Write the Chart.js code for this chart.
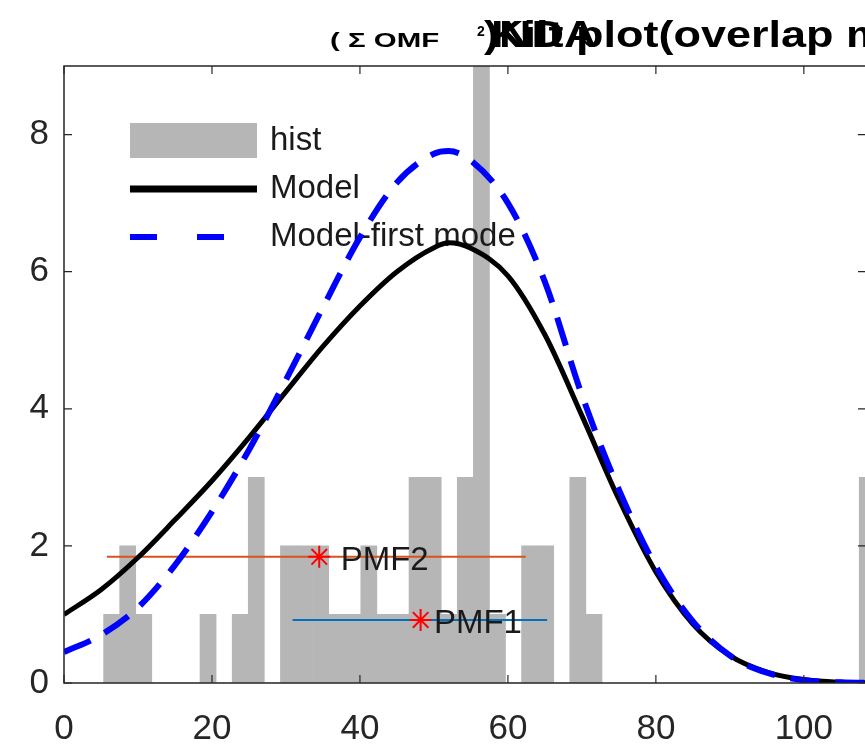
<!DOCTYPE html>
<html>
<head>
<meta charset="utf-8">
<script src="https://cdn.jsdelivr.net/npm/chart.js@4.4.1/dist/chart.umd.min.js"></script>
<style>
    html, body { margin: 0; padding: 0; background: #fff; overflow: hidden; }
    #quadro { width: 865px; height: 748px; overflow: hidden; position: relative; background: #fff; }
    #quadro canvas { position: absolute; left: 0; top: 0; }
</style>
</head>
<body>
<div id="quadro"><canvas id="grafico" width="880" height="748" style="width:880px;height:748px"></canvas></div>
<script>
// histograma (centros das classes e contagens)
const histCentros = [6.44, 8.61, 10.78, 12.96, 15.13, 17.30, 19.47, 21.65, 23.82, 25.99, 28.17,
    30.34, 32.51, 34.69, 36.86, 39.03, 41.20, 43.38, 45.55, 47.72, 49.90, 52.07, 54.24, 56.42,
    58.59, 60.76, 62.93, 65.11, 67.28, 69.45, 71.63, 108.57];
const histContagem = [1, 2, 1, 0, 0, 0, 1, 0, 1, 3, 0,
    2, 2, 2, 1, 1, 2, 1, 1, 3, 3, 1, 3, 9,
    1, 0, 2, 2, 0, 3, 1, 3];

// curvas do modelo
const xModelo = [0, 5, 10, 15, 20, 25, 30, 35, 40, 45, 50, 52, 55, 60, 65, 70, 75, 80, 85, 90, 95, 100, 105, 110];
const yModelo = [1.00, 1.36, 1.83, 2.38, 2.95, 3.58, 4.25, 4.91, 5.50, 6.00, 6.35, 6.42, 6.34, 5.94, 5.08, 3.90, 2.68, 1.62, 0.86, 0.40, 0.16, 0.05, 0.01, 0.00];
const yPrimeiroModo = [0.45, 0.70, 1.10, 1.72, 2.50, 3.40, 4.42, 5.48, 6.50, 7.30, 7.72, 7.76, 7.62, 7.00, 5.85, 4.20, 2.82, 1.70, 0.90, 0.40, 0.15, 0.04, 0.01, 0.00];

// PMF: centro, altura, extremos e posição do rótulo
const pmfNomes = ['PMF1', 'PMF2'];
const pmfCentro = [48.2, 34.5];
const pmfAltura = [0.92, 1.84];
const pmfInicio = [30.9, 5.8];
const pmfFim = [65.3, 62.4];
const pmfTextoX = [50.0, 37.4];
const pmfCores = ['#0072BD', '#D95319'];

const xTicks = [0, 20, 40, 60, 80, 100];
const yTicks = [0, 2, 4, 6, 8];

const fonte = "'Liberation Sans', Arial, sans-serif";
const corEixo = '#262626';
const cinza = '#b6b6b6';

const pares = (xs, ys) => xs.map((x, i) => ({ x: x, y: ys[i] }));

const datasets = [{
    type: 'bar',
    label: 'hist',
    data: pares(histCentros, histContagem),
    backgroundColor: cinza,
    borderWidth: 0,
    barPercentage: 1,
    categoryPercentage: 1,
    order: 10
}, {
    type: 'line',
    label: 'Model',
    data: pares(xModelo, yModelo),
    borderColor: '#000000',
    borderWidth: 5,
    pointRadius: 0,
    cubicInterpolationMode: 'monotone',
    order: 1
}, {
    type: 'line',
    label: 'Model-first mode',
    data: pares(xModelo, yPrimeiroModo),
    borderColor: '#0000ff',
    borderWidth: 6,
    borderDash: [29, 16],
    pointRadius: 0,
    cubicInterpolationMode: 'monotone',
    order: 0
}];

pmfNomes.forEach((nome, i) => {
    datasets.push({
        type: 'line',
        label: nome + ' faixa',
        data: [{ x: pmfInicio[i], y: pmfAltura[i] }, { x: pmfFim[i], y: pmfAltura[i] }],
        borderColor: pmfCores[i],
        borderWidth: 2,
        pointRadius: 0,
        order: 3
    });
    datasets.push({
        type: 'line',
        label: nome,
        data: [{ x: pmfCentro[i], y: pmfAltura[i] }],
        showLine: false,
        pointStyle: 'star',
        pointRadius: 11,
        borderColor: '#ff0000',
        borderWidth: 2,
        order: 2
    });
});

const moldura = {
    id: 'moldura',
    afterDatasetDraw(chart, args) {
        if (args.index !== 0) return;
        // legenda dentro do eixo, sem caixa
        const ctx = chart.ctx;
        const a = chart.chartArea;
        const x0 = a.left + 66, x1 = a.left + 193, xt = a.left + 206;
        const linhas = [a.top + 75, a.top + 123, a.top + 171];
        ctx.save();
        ctx.fillStyle = cinza;
        ctx.fillRect(x0, linhas[0] - 18, x1 - x0, 35);
        ctx.lineCap = 'butt';
        ctx.strokeStyle = '#000';
        ctx.lineWidth = 7;
        ctx.beginPath(); ctx.moveTo(x0, linhas[1]); ctx.lineTo(x1, linhas[1]); ctx.stroke();
        ctx.strokeStyle = '#0000ff';
        ctx.lineWidth = 6;
        ctx.setLineDash([27, 40]);
        ctx.beginPath(); ctx.moveTo(x0, linhas[2]); ctx.lineTo(x1, linhas[2]); ctx.stroke();
        ctx.setLineDash([]);
        ctx.fillStyle = '#1a1a1a';
        ctx.font = '33px ' + fonte;
        ctx.textBaseline = 'middle';
        ctx.fillText('hist', xt, linhas[0]);
        ctx.fillText('Model', xt, linhas[1]);
        ctx.fillText('Model-first mode', xt, linhas[2]);
        ctx.restore();
    },
    afterDatasetsDraw(chart) {
        const ctx = chart.ctx;
        const sx = chart.scales.x, sy = chart.scales.y;
        ctx.save();
        ctx.fillStyle = '#1a1a1a';
        ctx.font = '33px ' + fonte;
        ctx.textBaseline = 'middle';
        pmfNomes.forEach((nome, i) => {
            ctx.fillText(nome, sx.getPixelForValue(pmfTextoX[i]), sy.getPixelForValue(pmfAltura[i]) + 4);
        });
        ctx.restore();
    },
    afterDraw(chart) {
        const ctx = chart.ctx;
        const a = chart.chartArea;
        const sx = chart.scales.x, sy = chart.scales.y;
        ctx.save();
        ctx.strokeStyle = corEixo;
        ctx.lineWidth = 1.5;
        ctx.strokeRect(a.left, a.top, a.right - a.left, a.bottom - a.top);
        ctx.lineWidth = 1.2;
        ctx.beginPath();
        xTicks.forEach(v => {
            const p = sx.getPixelForValue(v);
            ctx.moveTo(p, a.bottom); ctx.lineTo(p, a.bottom - 8);
            ctx.moveTo(p, a.top); ctx.lineTo(p, a.top + 8);
        });
        yTicks.forEach(v => {
            const p = sy.getPixelForValue(v);
            ctx.moveTo(a.left, p); ctx.lineTo(a.left + 8, p);
            ctx.moveTo(a.right, p); ctx.lineTo(a.right - 8, p);
        });
        ctx.stroke();

        // título (sobreposto como no original)
        ctx.fillStyle = '#000';
        ctx.textBaseline = 'alphabetic';
        ctx.font = 'bold 21px ' + fonte;
        ctx.save(); ctx.translate(330, 47); ctx.scale(1.4, 1); ctx.fillText('( Σ OMF', 0, 0); ctx.restore();
        ctx.font = 'bold 14px ' + fonte;
        ctx.fillText('2', 477, 36);
        ctx.font = 'bold 36px ' + fonte;
        ctx.save(); ctx.translate(484, 47); ctx.scale(1.25, 1); ctx.fillText(')NDA', 0, 0); ctx.restore();
        ctx.save(); ctx.translate(491, 47); ctx.scale(1.25, 1); ctx.fillText('Kilt plot(overlap measure)', 0, 0); ctx.restore();
        ctx.restore();
    }
};

const ctx = document.getElementById('grafico').getContext('2d');
const grafico = new Chart(ctx, {
    data: { datasets: datasets },
    options: {
        responsive: false,
        animation: false,
        events: [],
        layout: { padding: { top: 66, right: 14, left: 0, bottom: 0 } },
        plugins: {
            legend: { display: false },
            title: { display: false },
            tooltip: { enabled: false }
        },
        scales: {
            x: {
                type: 'linear',
                min: 0,
                max: 108.4,
                offset: false,
                grid: { display: false, drawTicks: false },
                border: { display: false },
                afterBuildTicks: s => { s.ticks = xTicks.map(v => ({ value: v })); },
                afterFit: s => { s.height = 65; },
                ticks: {
                    padding: 25,
                    color: corEixo,
                    font: { family: fonte, size: 35 },
                    maxRotation: 0,
                    autoSkip: false
                }
            },
            y: {
                type: 'linear',
                min: 0,
                max: 9,
                grid: { display: false, drawTicks: false },
                border: { display: false },
                afterBuildTicks: s => { s.ticks = yTicks.map(v => ({ value: v })); },
                afterFit: s => { s.width = 64; },
                ticks: {
                    padding: 15,
                    color: corEixo,
                    font: { family: fonte, size: 35 }
                }
            }
        }
    },
    plugins: [moldura]
});
</script>
</body>
</html>
